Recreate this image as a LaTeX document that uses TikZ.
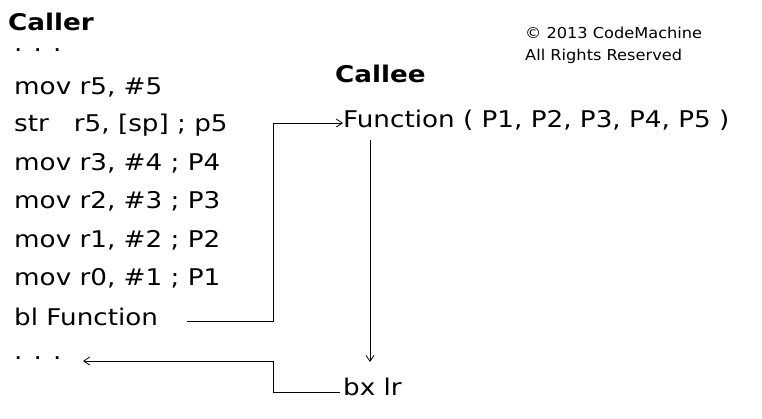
\documentclass[tikz,border=0pt]{standalone}
\usepackage{fontspec}
\setmainfont{DejaVu Sans}[FakeStretch=1.14]
\newfontfamily\smallfam{DejaVu Sans}[FakeStretch=1.08]
\usetikzlibrary{arrows.meta}
\begin{document}
\begin{tikzpicture}[x=1pt,y=-1pt,
  code/.style={anchor=west,inner sep=0pt,font=\fontsize{23}{26}\selectfont},
  hdr/.style={anchor=west,inner sep=0pt,font=\fontsize{23}{26}\selectfont\bfseries},
  small/.style={anchor=west,inner sep=0pt,font=\smallfam\fontsize{15}{17}\selectfont},
  conn/.style={line width=0.8pt,-{Straight Barb[length=6pt,width=8pt]}}]
\useasboundingbox (0,0) rectangle (762,418);
\node[hdr] (caller) at (8,22) {Caller};
\node[code] (d1) at (14,50) {. . .};
\node[code] (l1) at (14,87) {mov r5, \#5};
\node[code] (l2) at (14,125) {str\ \ \ r5, [sp] ; p5};
\node[code] (l3) at (14,163) {mov r3, \#4 ; P4};
\node[code] (l4) at (14,201) {mov r2, \#3 ; P3};
\node[code] (l5) at (14,240) {mov r1, \#2 ; P2};
\node[code] (l6) at (14,278) {mov r0, \#1 ; P1};
\node[code] (bl) at (14,317) {bl Function};
\node[code] (d2) at (14,358) {. . .};
\node[hdr] (callee) at (335,74) {Callee};
\node[code] (fn) at (343,120) {Function ( P1, P2, P3, P4, P5 )};
\node[code] (bx) at (343,387) {bx lr};
\node[small] (c1) at (525,33) {© 2013 CodeMachine};
\node[small] (c2) at (525,56) {All Rights Reserved};
\coordinate (s1) at (187,321);
\coordinate (t1) at (343,123);
\coordinate (s2) at (370,140);
\coordinate (t2) at (370,362);
\coordinate (s3) at (340,392);
\coordinate (t3) at (83,361);
\draw[conn] (s1) -- (273,321) |- (t1);
\draw[conn] (s2) -- (t2);
\draw[conn] (s3) -- (273,392) |- (t3);
\end{tikzpicture}
\end{document}
